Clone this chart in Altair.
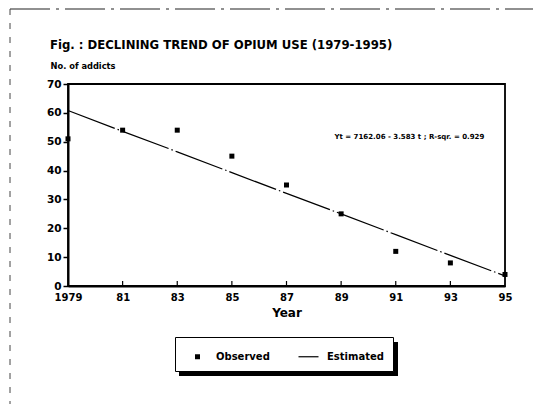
import altair as alt
import pandas as pd

# ---- data ----
years = [1979, 1981, 1983, 1985, 1987, 1989, 1991, 1993, 1995]
observed = [51, 54, 54, 45, 35, 25, 12, 8, 4]
estimated = [60.8, 53.6, 46.5, 39.3, 32.1, 25.0, 17.8, 10.6, 3.5]
y_ticks = [0, 10, 20, 30, 40, 50, 60, 70]
inner_ticks = [1981, 1983, 1985, 1987, 1989, 1991, 1993]
equation = "Yt = 7162.06 - 3.583 t ; R-sqr. = 0.929"

FONT = "DejaVu Sans"
W, H = 437, 202

obs_df = pd.DataFrame({"year": years, "value": observed, "series": "Observed"})
est_df = pd.DataFrame({"year": years, "value": estimated})
tick_df = pd.DataFrame({"year": inner_ticks})
eq_df = pd.DataFrame({"year": [1991.5], "value": [51.6], "text": [equation]})

x_scale = alt.Scale(domain=[1979, 1995], nice=False, zero=False)
y_scale = alt.Scale(domain=[0, 70], nice=False)

x_axis = alt.Axis(
    values=years, format="d",
    labelExpr="datum.value == 1979 ? datum.label : slice(datum.label, 2)",
    title="Year", titleFont=FONT, titleFontSize=12, titleFontWeight="bold",
    titlePadding=5, labelFont=FONT, labelFontSize=10, labelFontWeight="bold",
    labelColor="black", titleColor="black", ticks=False, labelPadding=6,
    labelFlush=False, labelOverlap=False,
    domainColor="black", domainWidth=2, grid=False,
)
y_axis = alt.Axis(
    values=y_ticks, format="d", title="No. of addicts", titleAngle=0, titleX=-18, titleY=-16,
    titleAlign="left", titleBaseline="alphabetic", titleFont=FONT, titleFontSize=8.3,
    titleFontWeight="bold", titleColor="black",
    labelFont=FONT, labelFontSize=10.5, labelFontWeight="bold", labelColor="black",
    labelOverlap=False, labelFlush=False,
    tickSize=5, tickWidth=1.5, tickColor="black", labelPadding=2,
    domainColor="black", domainWidth=2, grid=False,
)
x_enc = alt.X("year:Q", scale=x_scale, axis=x_axis)
y_enc = alt.Y("value:Q", scale=y_scale, axis=y_axis)

SQUARE = "M-0.25,-0.25H0.25V0.25H-0.25Z"
STROKE = "M-1,-0.06H1V0.06H-1Z"

shadow = alt.Chart(pd.DataFrame({"a": [0]})).mark_rect(color="black").encode(
    x=alt.value(111), x2=alt.value(330), y=alt.value(258), y2=alt.value(292)
)

frame = alt.Chart(pd.DataFrame({"a": [0]})).mark_rect(
    fill=None, fillOpacity=0, stroke="black", strokeWidth=1.8
).encode(x=alt.value(0), x2=alt.value(W), y=alt.value(0), y2=alt.value(H))

page_top = alt.Chart(pd.DataFrame({"a": [0]})).mark_rule(
    color="#222", strokeWidth=1.2, strokeDash=[40, 6, 3, 6]
).encode(x=alt.value(-58), x2=alt.value(473), y=alt.value(-75))
page_left = alt.Chart(pd.DataFrame({"a": [0]})).mark_rule(
    color="#444", strokeWidth=1, strokeDash=[6, 8]
).encode(x=alt.value(-58), y=alt.value(-75), y2=alt.value(325))

line = alt.Chart(est_df).mark_line(
    color="black", strokeWidth=1.2, strokeDash=[50, 3, 1.5, 3]
).encode(x=x_enc, y=y_enc)

points = alt.Chart(obs_df).mark_point(filled=True, opacity=1, size=400, color="black").encode(
    x=x_enc,
    y=y_enc,
    shape=alt.Shape(
        "series:N",
        scale=alt.Scale(domain=["Observed", "Estimated"], range=[SQUARE, STROKE]),
        legend=alt.Legend(
            title=None, orient="none", legendX=107, legendY=253, direction="horizontal",
            columns=2, padding=9, strokeColor="black", fillColor="white",
            labelFont=FONT, labelFontSize=10, labelFontWeight="bold", labelColor="black",
            symbolSize=400, symbolFillColor="black", symbolStrokeColor="black",
            symbolStrokeWidth=0.5, symbolOffset=3, labelOffset=8, columnPadding=25,
        ),
    ),
)

xticks = alt.Chart(tick_df).mark_rule(color="black", strokeWidth=1.2).encode(
    x=x_enc, y=alt.value(H), y2=alt.value(H - 5)
)

eq = alt.Chart(eq_df).mark_text(
    font=FONT, fontSize=7, fontWeight="bold", color="black", align="center", baseline="middle"
).encode(x=x_enc, y=y_enc, text="text:N")

chart = alt.layer(page_top, page_left, shadow, frame, line, xticks, points, eq).properties(
    width=W, height=H,
    title=alt.Title(
        "Fig.  : DECLINING TREND OF OPIUM USE (1979-1995)", anchor="start", frame="group",
        dx=-18, offset=-52, font=FONT, fontSize=11.7, fontWeight="bold", color="black",
        baseline="alphabetic",
    ),
    autosize=alt.AutoSizeParams(type="none"),
    padding={"left": 60, "top": 76, "right": 28, "bottom": 118},
).configure_view(stroke=None).configure(background="white")

chart.save("out.html", embed_options={"renderer": "svg", "actions": False})
